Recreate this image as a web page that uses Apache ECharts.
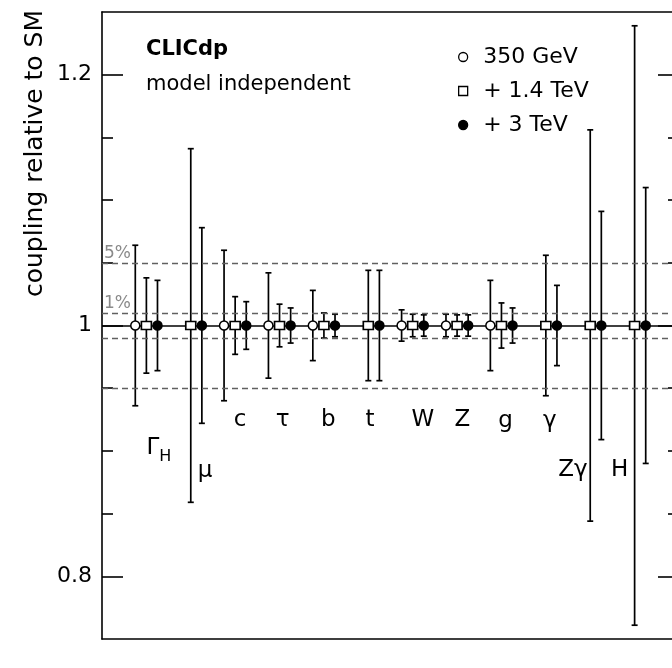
<!DOCTYPE html>
<html>
<head>
<meta charset="utf-8">
<script src="https://cdn.jsdelivr.net/npm/echarts@6/dist/echarts.min.js"></script>
<style>
  html, body { margin: 0; padding: 0; background: #fff; overflow: hidden; }
  /* the frame's right edge sits just past the window, as in the original */
  #chart { width: 679px; height: 668px; }
</style>
</head>
<body>
<div id="chart"></div>
<script>
// coupling groups (left to right)
var groupNames = ['ΓH', 'μ', 'c', 'τ', 'b', 't', 'W', 'Z', 'g', 'γ', 'Zγ', 'H'];
var err350  = [0.064, null, 0.060, 0.042, 0.028, null, 0.0125, 0.009, 0.036, null, null, null];
var err1400 = [0.038, 0.141, 0.023, 0.017, 0.010, 0.044, 0.009, 0.0085, 0.018, 0.056, 0.156, 0.239];
var err3000 = [0.036, 0.078, 0.019, 0.014, 0.009, 0.044, 0.0085, 0.0085, 0.014, 0.032, 0.091, 0.110];
var smValue = 1;
// axis ticks
var majorTicks = [0.8, 1, 1.2];
var minorTicks = [0.85, 0.9, 0.95, 1.05, 1.1, 1.15];
// reference bands (±1%, ±5%)
var bandLines = [1.05, 1.01, 0.99, 0.95];
var bandLabels = ['5%', '1%', '', ''];

// where the group names sit (data coords), kept apart from the values
var nameSpots = [[1.28, 0.900], [2.32, 0.884], [3.11, 0.9245], [4.07, 0.9245], [5.10, 0.9245], [6.04, 0.9245],
                 [7.23, 0.9245], [8.12, 0.9245], [9.09, 0.9235], [10.09, 0.9235], [10.61, 0.885], [11.66, 0.885]];

var FONT = 'DejaVu Sans';
var chart = echarts.init(document.getElementById('chart'));

// 组装误差棒数据
function buildData(errs, shift) {
    var out = [];
    errs.forEach(function (e, i) {
        if (e !== null) out.push([i + 1 + shift, smValue, e]);
    });
    return out;
}

function renderBar(params, api) {
    var x = api.value(0), c = api.value(1), e = api.value(2);
    var top = api.coord([x, c + e]);
    var bot = api.coord([x, c - e]);
    var cap = 3;
    var st = {stroke: '#000', lineWidth: 1.7};
    return {
        type: 'group',
        children: [
            {type: 'line', shape: {x1: top[0], y1: top[1], x2: bot[0], y2: bot[1]}, style: st},
            {type: 'line', shape: {x1: top[0] - cap, y1: top[1], x2: top[0] + cap, y2: top[1]}, style: st},
            {type: 'line', shape: {x1: bot[0] - cap, y1: bot[1], x2: bot[0] + cap, y2: bot[1]}, style: st}
        ]
    };
}

var stages = [
    {name: '350 GeV', errs: err350, shift: -0.25, symbol: 'circle', size: 9, fill: '#fff', icon: 'circle'},
    {name: '+ 1.4 TeV', errs: err1400, shift: 0, symbol: 'rect', size: [10, 8], fill: '#fff', icon: 'path://M0,0L10,0L10,10L0,10Z'},
    {name: '+ 3 TeV', errs: err3000, shift: 0.25, symbol: 'circle', size: 9, fill: '#000', icon: 'circle'}
];

var series = [];
// 参考线
series.push({
    type: 'line',
    data: [],
    silent: true,
    markLine: {
        symbol: 'none',
        silent: true,
        animation: false,
        data: [{yAxis: smValue, lineStyle: {type: 'solid', color: '#000', width: 1.6}, label: {show: false}}]
            .concat(bandLines.map(function (v, i) {
                return {
                    yAxis: v,
                    lineStyle: {type: [6, 4], color: '#606060', width: 1.3},
                    label: {
                        show: bandLabels[i] !== '',
                        formatter: bandLabels[i],
                        position: 'insideStartTop',
                        distance: [2, 1],
                        color: '#8a8a8a',
                        fontFamily: FONT,
                        fontSize: 17
                    }
                };
            }))
    }
});

stages.forEach(function (s) {
    var d = buildData(s.errs, s.shift);
    series.push({
        type: 'custom',
        name: s.name + ' err',
        renderItem: renderBar,
        data: d,
        z: 3,
        silent: true,
        encode: {x: 0, y: 1}
    });
    series.push({
        type: 'scatter',
        name: s.name,
        data: d.map(function (p) { return [p[0], p[1]]; }),
        symbol: s.symbol,
        symbolSize: s.size,
        z: 5,
        silent: true,
        itemStyle: {color: s.fill, borderColor: '#000', borderWidth: 1.5, opacity: 1}
    });
});

// 组名标签
series.push({
    type: 'scatter',
    name: 'names',
    symbolSize: 0,
    silent: true,
    z: 6,
    itemStyle: {color: '#000', opacity: 1},
    data: groupNames.map(function (n, i) {
        return {name: n, value: nameSpots[i]};
    }),
    label: {
        show: true,
        position: 'inside',
        color: '#000',
        opacity: 1,
        textBorderWidth: 0,
        fontFamily: FONT,
        fontSize: 23,
        formatter: function (p) {
            if (p.name === 'ΓH') return '{g|Γ}{h|H}';
            return p.name;
        },
        rich: {
            g: {fontFamily: FONT, fontSize: 23, lineHeight: 28, verticalAlign: 'top', color: '#000', textBorderWidth: 0},
            h: {fontFamily: FONT, fontSize: 16, lineHeight: 28, verticalAlign: 'bottom', color: '#000', textBorderWidth: 0}
        }
    }
});

function yAxisCfg(pos, ticks, len, withLine, withLabels) {
    return {
        type: 'value',
        position: pos,
        min: 0.75,
        max: 1.25,
        splitLine: {show: false},
        axisLine: {show: withLine, lineStyle: {color: '#000', width: 1.6}},
        axisTick: {show: true, inside: true, length: len, customValues: ticks, lineStyle: {color: '#000', width: 1.6}},
        axisLabel: withLabels ? {
            show: true, customValues: ticks, margin: 10,
            color: '#000', fontFamily: FONT, fontSize: 22
        } : {show: false}
    };
}

var option = {
    animation: false,
    backgroundColor: '#fff',
    grid: {left: 102, top: 12, right: 0, bottom: 29},
    xAxis: [
        {type: 'value', min: 0, max: 13, position: 'bottom', axisLine: {lineStyle: {color: '#000', width: 1.6}},
         axisTick: {show: false}, axisLabel: {show: false}, splitLine: {show: false}},
        {type: 'value', min: 0, max: 13, position: 'top', axisLine: {lineStyle: {color: '#000', width: 1.6}},
         axisTick: {show: false}, axisLabel: {show: false}, splitLine: {show: false}}
    ],
    yAxis: [
        yAxisCfg('left', majorTicks, 21, true, true),
        yAxisCfg('left', minorTicks, 11, false, false),
        yAxisCfg('right', majorTicks, 21, true, false),
        yAxisCfg('right', minorTicks, 11, false, false)
    ],
    legend: {
        data: stages.map(function (s) { return {name: s.name, icon: s.icon}; }),
        orient: 'vertical',
        left: 453,
        top: 41,
        itemWidth: 30,
        itemHeight: 9,
        itemGap: 12,
        selectedMode: false,
        itemStyle: {borderWidth: 1.3},
        textStyle: {color: '#000', fontFamily: FONT, fontSize: 22}
    },
    graphic: [
        {type: 'text', x: 146, y: 50, style: {text: 'CLICdp', fill: '#000', font: 'bold 21px "DejaVu Sans"', verticalAlign: 'middle'}},
        {type: 'text', x: 146, y: 85, style: {text: 'model independent', fill: '#000', font: '21px "DejaVu Sans"', verticalAlign: 'middle'}},
        {type: 'text', x: 35, y: 10, rotation: Math.PI / 2,
         style: {text: 'coupling relative to SM', fill: '#000', font: '25px "DejaVu Sans"', align: 'right', verticalAlign: 'middle'}}
    ],
    series: series
};

chart.setOption(option);
</script>
</body>
</html>
